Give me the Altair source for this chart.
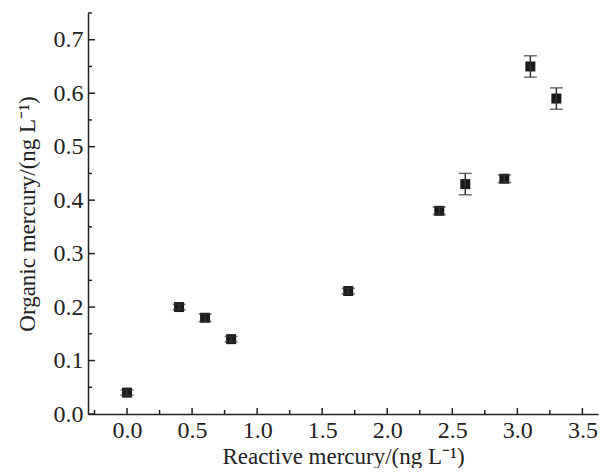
import altair as alt
import pandas as pd

# data
reactive = [0.0, 0.4, 0.6, 0.8, 1.7, 2.4, 2.6, 2.9, 3.1, 3.3]
organic = [0.04, 0.20, 0.18, 0.14, 0.23, 0.38, 0.43, 0.44, 0.65, 0.59]
err = [0.005, 0.005, 0.007, 0.005, 0.005, 0.007, 0.02, 0.007, 0.02, 0.02]

x_major = [0.0, 0.5, 1.0, 1.5, 2.0, 2.5, 3.0, 3.5]
x_minor = [-0.25, 0.25, 0.75, 1.25, 1.75, 2.25, 2.75, 3.25]
y_major = [0.0, 0.1, 0.2, 0.3, 0.4, 0.5, 0.6, 0.7]
y_minor = [0.05, 0.15, 0.25, 0.35, 0.45, 0.55, 0.65, 0.75]

df = pd.DataFrame({"x": reactive, "y": organic, "e": err})
df["lo"] = df["y"] - df["e"]
df["hi"] = df["y"] + df["e"]

W, H = 510, 401
FONT = "Liberation Serif"

xs = alt.Scale(domain=[-0.3, 3.62], nice=False, zero=False)
ys = alt.Scale(domain=[0, 0.75], nice=False, zero=False)

common = dict(tickSize=0, grid=False, labelFontSize=24, titleFontSize=23,
              labelFont=FONT, titleFont=FONT, titleFontWeight="normal",
              labelColor="#222", titleColor="#222", domainColor="#222", domainWidth=1.5,
              format=".1f")
xaxis = alt.Axis(title="Reactive mercury/(ng L\u207b\u00b9)", values=x_major,
                 labelPadding=4, titlePadding=3, **common)
yaxis = alt.Axis(title="Organic mercury/(ng L\u207b\u00b9)", values=y_major,
                 labelPadding=5, titlePadding=14, **common)

base = alt.Chart(df)

points = base.mark_square(size=100, color="#1a1a1a", opacity=1).encode(
    x=alt.X("x:Q", scale=xs, axis=xaxis),
    y=alt.Y("y:Q", scale=ys, axis=yaxis),
)
bars = base.mark_rule(color="#333", strokeWidth=1.5).encode(
    x="x:Q", y="lo:Q", y2="hi:Q")
cap_hi = base.mark_tick(orient="horizontal", size=13, thickness=1.5, color="#333").encode(
    x="x:Q", y="hi:Q")
cap_lo = base.mark_tick(orient="horizontal", size=13, thickness=1.5, color="#333").encode(
    x="x:Q", y="lo:Q")

xt_major = alt.Chart(pd.DataFrame({"t": x_major})).mark_rule(color="#222", strokeWidth=1.5).encode(
    x="t:Q", y=alt.value(H), y2=alt.value(H - 6))
xt_minor = alt.Chart(pd.DataFrame({"t": x_minor})).mark_rule(color="#222", strokeWidth=1.5).encode(
    x="t:Q", y=alt.value(H), y2=alt.value(H - 4))
yt_major = alt.Chart(pd.DataFrame({"t": y_major})).mark_rule(color="#222", strokeWidth=1.5).encode(
    y="t:Q", x=alt.value(0), x2=alt.value(7))
yt_minor = alt.Chart(pd.DataFrame({"t": y_minor})).mark_rule(color="#222", strokeWidth=1.5).encode(
    y="t:Q", x=alt.value(0), x2=alt.value(4))

chart = alt.layer(points, bars, cap_hi, cap_lo, xt_major, xt_minor, yt_major, yt_minor).properties(
    width=W, height=H,
    autosize=alt.AutoSizeParams(type="none"),
    padding={"left": 80, "top": 5, "right": 2, "bottom": 54},
    background="white",
).configure_view(stroke=None)

chart.save("out.html", embed_options={"renderer": "svg", "actions": False})
